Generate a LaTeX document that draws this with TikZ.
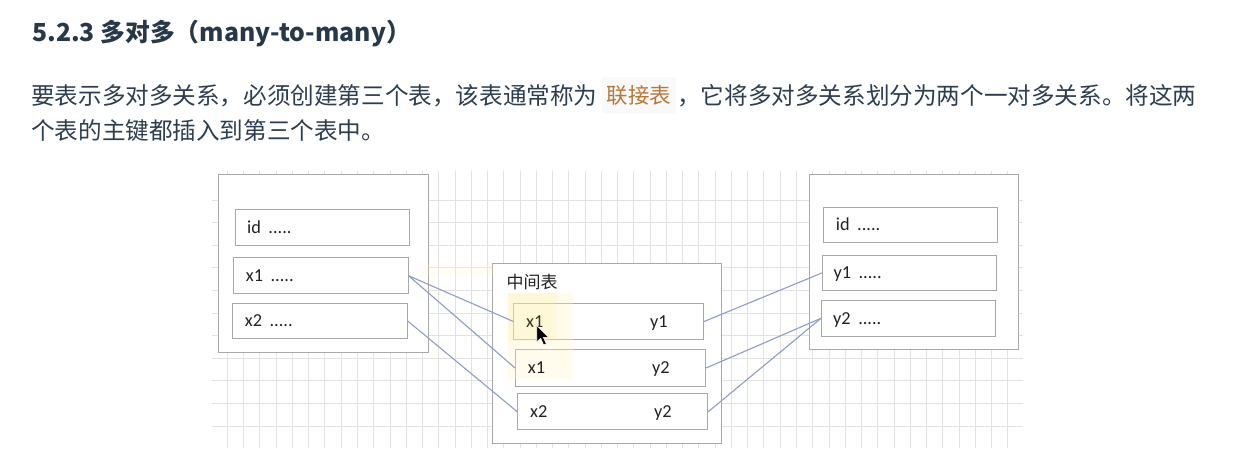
\documentclass[tikz,border=0pt]{standalone}
\usepackage{fontspec}
\setmainfont{Carlito}
\newfontfamily\cjk{Noto Sans CJK SC}
\definecolor{titlec}{HTML}{273849}
\definecolor{textc}{HTML}{2C3E50}
\definecolor{codec}{HTML}{B7773A}
\definecolor{codebg}{HTML}{F9F9F9}
\definecolor{gridc}{HTML}{E2E2E2}
\definecolor{boxc}{HTML}{A8A8A8}
\definecolor{linkc}{HTML}{8E9CC8}
\definecolor{lblc}{HTML}{222222}
\definecolor{hlA}{HTML}{FFF6C4}
\definecolor{hlB}{HTML}{FCEB9A}
\newcommand{\dotsgap}{\hspace{7.5pt}}
\tikzset{
  tbl/.style={draw=boxc, fill=white, line width=0.9pt, anchor=north west, inner sep=0pt},
  fld/.style={draw=boxc, fill=white, line width=0.9pt, anchor=north west, inner sep=0pt},
  lbl/.style={anchor=west, inner sep=0pt, text=lblc, font=\fontsize{18.3}{20}\selectfont, text height=11.5pt, text depth=0pt},
  hdr/.style={anchor=west, inner sep=0pt, text=lblc, font=\cjk\fontsize{17}{20}\selectfont},
  link/.style={draw=linkc, line width=1.1pt},
  gridv/.style={draw=gridc, line width=0.8pt},
  gridh/.style={draw=gridc, line width=0.9pt},
  para/.style={anchor=base west, inner sep=0pt, text=textc, font=\cjk\fontsize{23.6}{28}\selectfont},
}
\begin{document}
\begin{tikzpicture}[x=1pt,y=-1pt]
\useasboundingbox (0,0) rectangle (1256,472);
\fill[white] (0,0) rectangle (1256,472);

% heading and paragraph
\node[anchor=base west, inner sep=0pt, text=titlec, font=\cjk\bfseries\fontsize{24.8}{30}\selectfont] (title) at (32,41) {5.2.3 多对多（many-to-many）};
\node[para] (p1a) at (31,104) {要表示多对多关系，必须创建第三个表，该表通常称为};
\node[fill=codebg, rounded corners=3pt, minimum width=74pt, minimum height=36pt, inner sep=0pt, text=codec, font=\cjk\fontsize{21.5}{26}\selectfont] (code) at (639,95) {联接表};
\node[para] (p1b) at (677,104) {，它将多对多关系划分为两个一对多关系。将这两};
\node[para] (p2) at (31,139) {个表的主键都插入到第三个表中。};

% grid
\foreach \i in {0,...,48} \draw[gridv] ({227.3+16.26*\i},171) -- ++(0,277);
\foreach \j in {0,...,10} \draw[gridh] (212,{200.1+22.6*\j}) -- (1023,{200.1+22.6*\j});

% tables and fields
\node[tbl, minimum width=209.5pt, minimum height=178pt] (L) at (218.3,174.3) {};
\node[fld, minimum width=174pt, minimum height=36pt] (lid) at (235,209.3) {};
\node[fld, minimum width=174.4pt, minimum height=36pt] (lx1) at (233.3,257.3) {};
\node[fld, minimum width=174.4pt, minimum height=35.6pt] (lx2) at (232.3,302.7) {};

\node[tbl, minimum width=228.7pt, minimum height=180pt] (M) at (492.3,263.3) {};
\node[fld, minimum width=190pt, minimum height=36.6pt] (r1) at (513.3,302.7) {};
\node[fld, minimum width=190.3pt, minimum height=37pt] (r2) at (515,349) {};
\node[fld, minimum width=190pt, minimum height=36pt] (r3) at (517.3,393.3) {};

\node[tbl, minimum width=209pt, minimum height=175pt] (R) at (809.3,174.3) {};
\node[fld, minimum width=174pt, minimum height=34.7pt] (rid) at (823.3,207.3) {};
\node[fld, minimum width=173.7pt, minimum height=35.3pt] (ry1) at (822.3,254.7) {};
\node[fld, minimum width=174pt, minimum height=35.7pt] (ry2) at (821,300) {};

% faint cursor highlight
\fill[hlA, opacity=0.18] (420,265) rectangle (493,276);
\fill[hlA, opacity=0.30] (508,293) rectangle (573,379);
\fill[hlB, opacity=0.25] (508,293) rectangle (557,341);

% labels
\node[lbl] (tlid) at ([xshift=12pt]lid.west) {id\dotsgap.....};
\node[lbl] (tlx1) at ([xshift=12.4pt]lx1.west) {x1\dotsgap.....};
\node[lbl] (tlx2) at ([xshift=12.4pt]lx2.west) {x2\dotsgap.....};
\node[hdr] (tM) at (506.5,282) {中间表};
\node[lbl, text=lblc!80!olive] (r1a) at ([xshift=12.7pt]r1.west) {x1};
\node[lbl] (r1b) at ([xshift=136.7pt]r1.west) {y1};
\node[lbl] (r2a) at ([xshift=12.7pt]r2.west) {x1};
\node[lbl] (r2b) at ([xshift=137pt]r2.west) {y2};
\node[lbl] (r3a) at ([xshift=12.7pt]r3.west) {x2};
\node[lbl] (r3b) at ([xshift=136.7pt]r3.west) {y2};
\node[lbl] (trid) at ([xshift=12.4pt]rid.west) {id\dotsgap.....};
\node[lbl] (try1) at ([xshift=11pt]ry1.west) {y1\dotsgap.....};
\node[lbl] (try2) at ([xshift=12pt]ry2.west) {y2\dotsgap.....};

% connectors
\draw[link] (lx1.east) -- (r1.west);
\draw[link] (lx1.east) -- (r2.west);
\draw[link] (lx2.east) -- (r3.west);
\draw[link] (r1.east) -- (ry1.west);
\draw[link] (r2.east) -- (ry2.west);
\draw[link] (r3.east) -- (ry2.west);

% mouse pointer
\coordinate (tip) at (536.7,325.5);
\filldraw[fill=black, draw=white, line width=0.6pt, shift={(tip)}]
  (0,0) -- (0,16.5) -- (4,12.8) -- (7,19.5) -- (9.6,18.4) -- (6.7,11.8) -- (11.8,11.8) -- cycle;
\end{tikzpicture}
\end{document}
